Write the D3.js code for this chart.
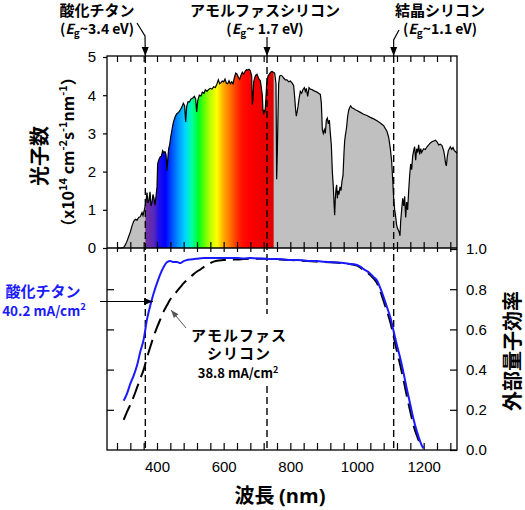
<!DOCTYPE html>
<html><head><meta charset="utf-8">
<script src="https://cdn.jsdelivr.net/npm/d3@7"></script>
<style>
html,body{margin:0;padding:0;background:#fff;}
svg{display:block;}
.tick text{font-family:"Liberation Sans",Arial,sans-serif;font-size:15px;fill:#000;}
</style></head>
<body>
<svg id="c" width="525" height="510"></svg>
<script>
// ---- data ----
const specWl = [280,295,300,305,310,315,320,325,330,335,340,345,350,355,358,362,365,368,370,373,376,379,382,385,388,391,394,397,400,402,405,409,413,417,420,424,427,430,432,435,438,441,444,447,450,455,460,465,470,475,479,483,486,489,493,497,502,507,512,516,519,522,527,532,536,541,545,550,555,560,565,570,575,580,584,588,592,596,600,604,608,612,616,620,624,628,632,636,640,644,648,652,656,660,664,668,672,676,680,684,686,688,690,693,696,700,703,706,710,713,716,718,720,722,724,726,729,733,737,741,745,749,753,757,759,761,763,765,768,772,776,780,785,790,795,800,805,810,813,816,818,820,823,826,830,834,838,842,845,848,852,856,860,865,870,875,880,885,890,893,896,899,902,905,908,911,914,917,920,923,926,929,931,933,935,937,939,941,943,946,949,952,955,958,961,963,965,967,969,972,975,978,981,985,990,995,1000,1010,1020,1030,1040,1050,1060,1070,1080,1090,1095,1100,1104,1107,1110,1113,1116,1119,1122,1125,1127,1129,1131,1134,1137,1140,1143,1146,1149,1152,1155,1158,1161,1164,1167,1170,1173,1176,1179,1182,1185,1188,1191,1194,1197,1200,1205,1210,1215,1220,1225,1230,1235,1240,1245,1250,1255,1260,1263,1266,1268,1271,1274,1277,1280,1284,1288,1292,1296,1300];
const specFlux = [0,0,0.02,0.08,0.18,0.3,0.42,0.58,0.7,0.75,0.73,0.8,0.82,0.93,0.85,1.0,1.12,1.3,1.45,1.18,1.25,1.47,1.1,1.2,1.4,1.3,1.12,1.35,1.6,2.2,2.3,2.38,2.4,2.55,2.5,2.52,2.45,2.02,2.3,2.6,2.7,2.9,3.05,3.2,3.32,3.45,3.52,3.55,3.62,3.7,3.79,3.72,3.3,3.7,3.83,3.82,3.9,3.92,3.97,3.9,3.56,3.85,4.0,3.98,4.08,4.05,4.14,4.1,4.15,4.18,4.16,4.22,4.2,4.3,4.4,4.3,4.33,4.37,4.35,4.42,4.32,4.3,4.38,4.3,4.35,4.3,4.45,4.58,4.55,4.47,4.42,4.52,4.6,4.55,4.62,4.67,4.66,4.68,4.64,4.5,3.75,3.9,4.35,4.45,4.52,4.55,4.48,4.42,4.38,4.2,4.0,3.6,3.5,3.62,3.55,3.8,4.3,4.5,4.55,4.6,4.62,4.6,4.58,4.3,1.8,2.5,3.5,4.3,4.5,4.52,4.5,4.45,4.4,4.4,4.35,4.37,4.32,4.25,3.95,3.6,3.45,3.55,3.7,3.9,4.1,4.05,4.15,4.2,4.1,4.18,3.97,4.2,4.16,4.15,4.12,4.1,4.08,4.05,4.02,3.8,3.1,3.0,3.1,3.0,3.35,3.4,3.25,3.35,3.0,2.7,2.0,1.6,1.2,0.86,1.3,1.55,1.65,1.3,1.5,1.4,1.6,1.5,1.75,1.9,2.5,2.8,2.95,3.05,3.18,3.45,3.6,3.68,3.72,3.67,3.65,3.62,3.6,3.55,3.5,3.47,3.42,3.38,3.33,3.27,3.2,3.05,2.9,2.6,2.27,1.8,1.3,1.0,0.82,0.6,0.5,0.45,0.4,0.32,0.7,1.0,1.3,1.1,1.35,0.8,1.2,1.0,1.5,1.9,2.2,2.05,2.4,2.55,2.65,2.3,2.6,2.5,2.7,2.45,2.6,2.5,2.55,2.6,2.58,2.65,2.7,2.75,2.78,2.8,2.82,2.78,2.7,2.72,2.68,2.55,2.4,2.2,2.15,2.4,2.55,2.6,2.65,2.58,2.63,2.55,2.52,2.48];

const eqeTiO2Wl = [300,310,320,330,340,350,360,370,380,390,400,410,420,430,440,450,460,470,480,490,500,520,540,560,580,600,620,640,660,680,700,720,740,760,780,800,820,840,860,880,900,920,940,960,980,1000,1010,1020,1030,1040,1050,1060,1070,1080,1090,1100,1110,1120,1130,1140,1150,1160,1170,1180,1190,1195,1200];
const eqeTiO2 = [0.245,0.28,0.33,0.37,0.42,0.49,0.55,0.65,0.72,0.78,0.83,0.875,0.91,0.935,0.94,0.935,0.935,0.93,0.94,0.945,0.948,0.952,0.955,0.955,0.955,0.955,0.955,0.955,0.953,0.955,0.953,0.952,0.95,0.95,0.948,0.945,0.945,0.943,0.94,0.94,0.937,0.935,0.933,0.93,0.925,0.92,0.912,0.9,0.89,0.877,0.86,0.843,0.805,0.76,0.71,0.66,0.59,0.52,0.455,0.38,0.3,0.225,0.15,0.09,0.04,0.02,0.01];
const eqeASiWl = [300,310,320,330,340,350,360,370,380,390,400,410,420,430,440,450,460,470,480,490,500,510,520,530,540,550,560,570,580,600,620,640,660,680,700,720,740,760,780,800,850,900,950,1000,1020,1040,1060,1070,1080,1090,1100,1110,1120,1130,1140,1150,1160,1170,1180,1190,1200];
const eqeASi = [0.15,0.19,0.225,0.265,0.31,0.355,0.40,0.46,0.514,0.565,0.61,0.65,0.69,0.72,0.75,0.77,0.79,0.81,0.83,0.846,0.86,0.875,0.888,0.898,0.91,0.92,0.93,0.937,0.942,0.945,0.948,0.948,0.95,0.952,0.952,0.952,0.95,0.948,0.947,0.945,0.94,0.935,0.93,0.918,0.895,0.87,0.83,0.79,0.74,0.69,0.635,0.565,0.49,0.42,0.345,0.265,0.19,0.12,0.07,0.03,0.01];

const bandgapWl = [365, 730, 1110];
const bandgapNames = ["酸化チタン","アモルファスシリコン","結晶シリコン"];
const bandgapEg = ["3.4 eV","\u00a01.7 eV","1.1 eV"];
const xTicks = d3.range(280, 1281, 40);
const xLabels = [400,600,800,1000,1200];
const photonTicks = [0,1,2,3,4,5];
const eqeTicks = [0,0.2,0.4,0.6,0.8,1.0];
const rainbowWl = [365,390,405,425,445,465,485,505,525,545,565,580,598,615,635,655,675,750];
const rainbowCol = ["#7030a0","#5a28b8","#2010e8","#0000ff","#0050ff","#0098ff","#00d8ff","#00ffa0","#00ff20","#70ff00","#d0ff00","#ffff00","#ffb000","#ff8000","#ff4000","#ff1000","#ff0000","#dd0000"];

// ---- drawing ----
const svg = d3.select("#c");
const L = 107, R = 457, T = 56, M = 248, B = 450;
const x = d3.scaleLinear().domain([250,1300]).range([L,R]);
const yP = d3.scaleLinear().domain([0,5]).range([M,57]);
const yE = d3.scaleLinear().domain([0,1]).range([B,249]);
const JP = '"Noto Sans CJK JP","Noto Sans",sans-serif';

const defs = svg.append("defs");
const grad = defs.append("linearGradient").attr("id","rb")
  .attr("gradientUnits","userSpaceOnUse")
  .attr("x1",x(365)).attr("x2",x(750)).attr("y1",0).attr("y2",0);
rainbowWl.forEach((w,i)=>grad.append("stop")
  .attr("offset",(w-365)/(750-365)).attr("stop-color",rainbowCol[i]));
defs.append("clipPath").attr("id","rbclip").append("rect")
  .attr("x",x(365)).attr("y",T).attr("width",x(750)-x(365)).attr("height",M-T);

const spec = specWl.map((w,i)=>[w,specFlux[i]]);
const area = d3.area().x(d=>x(d[0])).y0(yP(0)).y1(d=>yP(d[1]));
const line = d3.line().x(d=>x(d[0])).y(d=>yP(d[1]));
svg.append("path").datum(spec).attr("d",area).attr("fill","#c0c0c0");
svg.append("path").datum(spec).attr("d",area).attr("fill","url(#rb)").attr("clip-path","url(#rbclip)");
svg.append("path").datum(spec).attr("d",line).attr("fill","none").attr("stroke","#000").attr("stroke-width",1.2);

// dashed band gap lines
bandgapWl.forEach(w=>{
  svg.append("line").attr("x1",x(w)).attr("x2",x(w)).attr("y1",T).attr("y2",B)
    .attr("stroke","#000").attr("stroke-width",1.4).attr("stroke-dasharray","7,4");
});

// frames
svg.append("rect").attr("x",L).attr("y",T).attr("width",R-L).attr("height",B-T)
  .attr("fill","none").attr("stroke","#000").attr("stroke-width",1.3);
svg.append("line").attr("x1",L).attr("x2",R).attr("y1",M).attr("y2",M).attr("stroke","#000").attr("stroke-width",1.3);

function clean(g){ g.select(".domain").remove(); g.selectAll(".tick line").attr("stroke","#000").attr("stroke-width",1.2); }
// x ticks
svg.append("g").attr("transform",`translate(0,${B})`)
  .call(d3.axisBottom(x).tickValues(xTicks).tickSizeInner(-7).tickSizeOuter(0).tickPadding(11)
    .tickFormat(d=>xLabels.includes(d)?d:""))
  .call(clean);
svg.append("g").attr("transform",`translate(0,${M})`)
  .call(d3.axisBottom(x).tickValues(xTicks).tickSizeInner(-6).tickSizeOuter(0).tickFormat(""))
  .call(clean);
svg.append("g").attr("transform",`translate(0,${M})`)
  .call(d3.axisBottom(x).tickValues(xTicks).tickSizeInner(4).tickSizeOuter(0).tickFormat(""))
  .call(clean);
svg.append("g").attr("transform",`translate(0,${T})`)
  .call(d3.axisBottom(x).tickValues(xTicks).tickSizeInner(6).tickSizeOuter(0).tickFormat(""))
  .call(clean);
// y photon
svg.append("g").attr("transform",`translate(${L},0)`)
  .call(d3.axisLeft(yP).tickValues(photonTicks).tickSizeInner(4).tickSizeOuter(0).tickPadding(7).tickFormat(d3.format("d")))
  .call(clean);
// EQE left ticks
svg.append("g").attr("transform",`translate(${L},0)`)
  .call(d3.axisLeft(yE).tickValues(eqeTicks.slice(1,5)).tickSizeInner(-7).tickSizeOuter(0).tickFormat(""))
  .call(clean);
// EQE right
svg.append("g").attr("transform",`translate(${R},0)`)
  .call(d3.axisRight(yE).tickValues(eqeTicks).tickSizeInner(-7).tickSizeOuter(0).tickPadding(9).tickFormat(d3.format(".1f")))
  .call(clean);

// EQE curves
const eLine = d3.line().x(d=>x(d[0])).y(d=>yE(d[1])).curve(d3.curveMonotoneX);
svg.append("path").datum(eqeASiWl.map((w,i)=>[w,eqeASi[i]])).attr("d",eLine)
  .attr("fill","none").attr("stroke","#000").attr("stroke-width",2).attr("stroke-dasharray","16,7");
svg.append("path").datum(eqeTiO2Wl.map((w,i)=>[w,eqeTiO2[i]])).attr("d",eLine)
  .attr("fill","none").attr("stroke","#1a1aff").attr("stroke-width",2);

// arrows helper
function arrow(pts, color, w, hl, hw){
  svg.append("path").attr("d",d3.line()(pts)).attr("fill","none").attr("stroke",color).attr("stroke-width",w);
  const p=pts[pts.length-1], q=pts[pts.length-2];
  const a=Math.atan2(p[1]-q[1],p[0]-q[0]);
  const bx=p[0]-hl*Math.cos(a), by=p[1]-hl*Math.sin(a);
  const nx=-Math.sin(a)*hw/2, ny=Math.cos(a)*hw/2;
  svg.append("path").attr("d",`M${p[0]},${p[1]}L${bx+nx},${by+ny}L${bx-nx},${by-ny}Z`).attr("fill",color);
}

// top labels
const labX = [97, 265, 440];
bandgapNames.forEach((n,i)=>{
  svg.append("text").attr("x",labX[i]).attr("y",16).attr("text-anchor","middle")
    .attr("font-family",JP).attr("font-weight","bold").attr("font-size",15).text(n);
  const t = svg.append("text").attr("x",labX[i]).attr("y",34).attr("text-anchor","middle")
    .attr("font-family",JP).attr("font-weight","bold").attr("font-size",14);
  t.append("tspan").text("(");
  t.append("tspan").attr("font-style","italic").text("E");
  t.append("tspan").attr("font-size",10).attr("dy",3).text("g");
  t.append("tspan").attr("dy",-3).text("~"+bandgapEg[i]+")");
});
arrow([[137,23],[145,36],[x(365),56]],"#000",1.2,9,7);
arrow([[x(730),37],[x(730),56]],"#000",1.2,9,7);
arrow([[399,30],[x(1110),40],[x(1110),56]],"#000",1.2,9,7);

// axis titles
svg.append("text").attr("transform","translate(47,156) rotate(-90)").attr("text-anchor","middle")
  .attr("font-family",JP).attr("font-weight","bold").attr("font-size",20).text("光子数");
const yt = svg.append("text").attr("transform","translate(74,152) rotate(-90)").attr("text-anchor","middle")
  .attr("font-family",JP).attr("font-weight","bold").attr("font-size",16);
yt.append("tspan").text("（x10");
yt.append("tspan").attr("font-size",11).attr("dy",-7).text("14");
yt.append("tspan").attr("dy",7).text(" cm");
yt.append("tspan").attr("font-size",11).attr("dy",-7).text("-2");
yt.append("tspan").attr("dy",7).text("s");
yt.append("tspan").attr("font-size",11).attr("dy",-7).text("-1");
yt.append("tspan").attr("dy",7).text("nm");
yt.append("tspan").attr("font-size",11).attr("dy",-7).text("-1");
yt.append("tspan").attr("dy",7).text("）");
svg.append("text").attr("transform","translate(520,351) rotate(-90)").attr("text-anchor","middle")
  .attr("font-family",JP).attr("font-weight","bold").attr("font-size",20).text("外部量子効率");
const xt = svg.append("text").attr("x",280).attr("y",503).attr("text-anchor","middle")
  .attr("font-family",JP).attr("font-weight","bold").attr("font-size",20);
xt.append("tspan").text("波長 ");
xt.append("tspan").attr("font-family",'"Open Sans",sans-serif').text("(nm)");

// TiO2 annotation
svg.append("text").attr("x",43).attr("y",297).attr("text-anchor","middle").attr("fill","#1a1aff")
  .attr("font-family",JP).attr("font-weight","bold").attr("font-size",15).text("酸化チタン");
const tb = svg.append("text").attr("x",44).attr("y",316).attr("text-anchor","middle").attr("fill","#1a1aff")
  .attr("font-family",JP).attr("font-weight","bold").attr("font-size",13.5);
tb.append("tspan").text("40.2 mA/cm");
tb.append("tspan").attr("font-size",9.5).attr("dy",-6).text("2");
arrow([[100,301.5],[153,301.5]],"#000",1,9,7);

// a-Si annotation
svg.append("rect").attr("x",188).attr("y",314).attr("width",100).attr("height",68).attr("fill","#fff");
svg.append("text").attr("x",239).attr("y",341).attr("text-anchor","middle")
  .attr("font-family",JP).attr("font-weight","bold").attr("font-size",15).attr("letter-spacing",1).text("アモルファス");
svg.append("text").attr("x",239).attr("y",359).attr("text-anchor","middle")
  .attr("font-family",JP).attr("font-weight","bold").attr("font-size",15).attr("letter-spacing",1).text("シリコン");
const ab = svg.append("text").attr("x",238).attr("y",378).attr("text-anchor","middle")
  .attr("font-family",JP).attr("font-weight","bold").attr("font-size",13);
ab.append("tspan").text("38.8 mA/cm");
ab.append("tspan").attr("font-size",9).attr("dy",-5).text("2");
arrow([[186,328],[171,310]],"#555",1,8,6);
</script>
</body></html>
